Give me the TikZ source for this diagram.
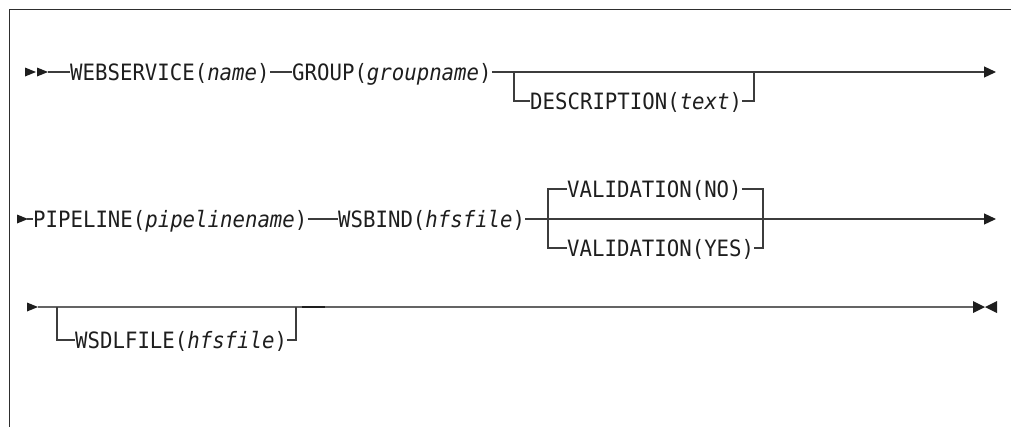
\documentclass[tikz,border=0pt]{standalone}
\usepackage{fontspec}
\usepackage{tikz}
\usetikzlibrary{positioning,arrows.meta,calc}
\newfontfamily\synfont[FakeStretch=0.92]{DejaVu Sans Mono}
\definecolor{synink}{HTML}{1E1E1E}
\definecolor{synline}{HTML}{3C3C3C}
\definecolor{synrail}{HTML}{646464}
\definecolor{synframe}{HTML}{2E2E2E}

\begin{document}
\begin{tikzpicture}[x=1bp,y=-1bp,
  kw/.style={inner sep=0pt, anchor=west, text height=16.4bp, text depth=0bp,
             text=synink, font=\synfont\fontsize{22.5bp}{25bp}\selectfont},
  rail/.style={draw=synline, line width=1.2bp},
  railend/.style={rail, -{Triangle[length=12bp,width=11bp,color=synink]}},
  fwd/.pic={\fill[synink] (0,-4.5) -- (11,0) -- (0,4.5) -- cycle;},
  stopmark/.pic={\fill[synink] (0,-6) -- (12,0) -- (0,6) -- cycle;
                 \fill[synink] (24,-6) -- (12,0) -- (24,6) -- cycle;}]
  \useasboundingbox (0,0) rectangle (1011,427);
  \draw[synframe, line width=1bp] (1011,9.5) -| (9.5,427);

  % first line
  \pic at (25,72) {fwd};
  \pic at (37,72) {fwd};
  \coordinate (r1s) at (48,72);
  \node[kw] (ws) at (70,72) {WEBSERVICE(\textit{name})};
  \node[kw] (grp) at (292,72) {GROUP(\textit{groupname})};
  \node[kw] (desc) at (530,101) {DESCRIPTION(\textit{text})};
  \coordinate (r1a) at (514,72);
  \coordinate (r1b) at (754,72);
  \coordinate (r1e) at (996,72);
  \draw[rail] (r1s) -- (ws.west);
  \draw[rail] (ws.east) -- (grp.west);
  \draw[railend] (grp.east) -- (r1e);
  \draw[rail] (r1a) |- (desc.west);
  \draw[rail] (desc.east) -| (r1b);

  % second line
  \pic at (17,219) {fwd};
  \coordinate (r2s) at (27,219);
  \node[kw] (pipe) at (33,219) {PIPELINE(\textit{pipelinename})};
  \node[kw] (bind) at (338,219) {WSBIND(\textit{hfsfile})};
  \node[kw] (vno) at (567,189) {VALIDATION(NO)};
  \node[kw] (vyes) at (567,248) {VALIDATION(YES)};
  \coordinate (r2a) at (548,219);
  \coordinate (r2b) at (763,219);
  \coordinate (r2e) at (996,219);
  \draw[rail] (r2s) -- (pipe.west);
  \draw[rail] (pipe.east) -- (bind.west);
  \draw[railend] (bind.east) -- (r2e);
  \draw[rail] (vno.west) -| (r2a) |- (vyes.west);
  \draw[rail] (vno.east) -| (r2b) |- (vyes.east);

  % third line
  \pic at (27,307) {fwd};
  \coordinate (r3s) at (38,307);
  \node[kw] (wsdl) at (75,340) {WSDLFILE(\textit{hfsfile})};
  \coordinate (r3a) at (57,307);
  \coordinate (r3b) at (296,307);
  \coordinate (r3e) at (973,307);
  \draw[draw=synrail, line width=1.8bp] (r3s) -- (r3e);
  \draw[synink, line width=1.8bp] ($(r3b)+(6,0)$) -- ++(23,0);
  \draw[rail] (r3a) |- (wsdl.west);
  \draw[rail] (wsdl.east) -| (r3b);
  \pic at (r3e) {stopmark};
\end{tikzpicture}
\end{document}
